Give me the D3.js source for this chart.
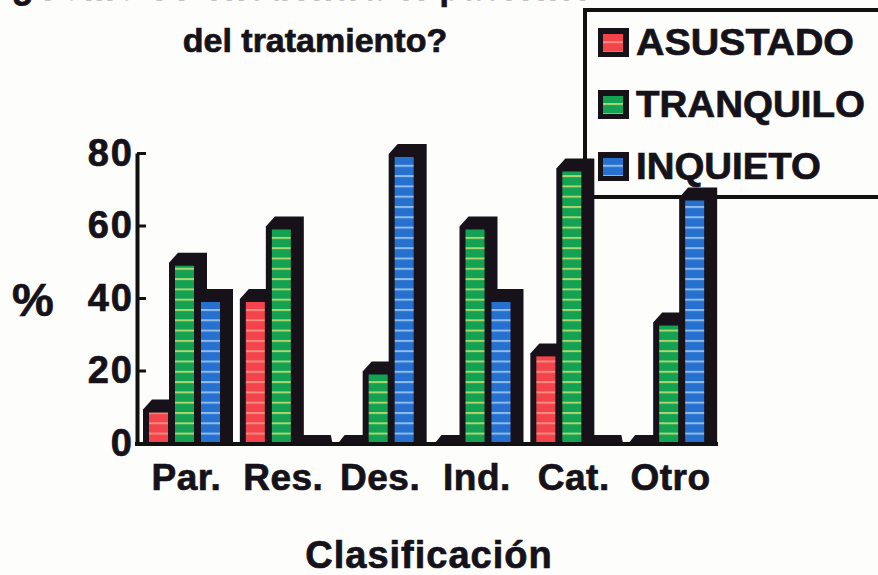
<!DOCTYPE html>
<html><head><meta charset="utf-8">
<script src="https://cdn.jsdelivr.net/npm/d3@7"></script>
<style>html,body{margin:0;padding:0;background:#fdfdfb}svg{display:block}text{font-family:"Liberation Sans",Arial,sans-serif;font-weight:bold;fill:#15121a;stroke:#15121a;stroke-width:.7px}</style>
</head><body><svg id="c" width="878" height="575"></svg>
<script>
const categories=["Par.","Res.","Des.","Ind.","Cat.","Otro"];
const seriesNames=["ASUSTADO","TRANQUILO","INQUIETO"];
const asustado=[9.5,40,0,0,25,0];
const tranquilo=[50,60,20,60,76,33.5];
const inquieto=[40,0,80,40,0,68];
const yTicks=[0,20,40,60,80];
const colors=["#f2444a","#13a152","#2670d0"];
const stripes=["#f98a80","#a9d670","#8fbdea"];
const values=[asustado,tranquilo,inquieto];

const svg=d3.select("#c");
const defs=svg.append("defs");
colors.forEach((c,i)=>{
  const p=defs.append("pattern").attr("id","p"+i).attr("patternUnits","userSpaceOnUse").attr("width",20).attr("height",10.3);
  p.append("rect").attr("width",20).attr("height",10.3).attr("fill",c);
  p.append("rect").attr("y",0).attr("width",20).attr("height",2).attr("fill",stripes[i]);
});
const x0=d3.scaleBand().domain(categories).range([130,711]).padding(0);
const x1=d3.scaleBand().domain(d3.range(3)).range([13,91]).padding(0);
const y=d3.scaleLinear().domain([0,80]).range([443,153]);

// title (top line is cut by the page edge and hidden behind the legend, as in the reference)
svg.append("text").attr("x",12).attr("y",0).attr("font-size",34).attr("letter-spacing",2).text("¿Cómo se encuentra el paciente");
svg.append("text").attr("x",315).attr("y",52).attr("text-anchor","middle").attr("font-size",34).text("del tratamiento?");

// legend
const lg=svg.append("g");
lg.append("rect").attr("x",585).attr("y",10).attr("width",310).attr("height",187).attr("fill","#fdfdfb").attr("stroke","#111").attr("stroke-width",4);
const legendWidths=[218,229,185];
seriesNames.forEach((s,i)=>{
  const cy=43+i*62;
  lg.append("rect").attr("x",598).attr("y",cy-15).attr("width",31).attr("height",29).attr("fill","#17121a");
  lg.append("rect").attr("x",603).attr("y",cy-9).attr("width",20).attr("height",18).attr("fill",`url(#p${i})`);
  lg.append("text").attr("x",636).attr("y",cy+12).attr("font-size",37).attr("textLength",legendWidths[i]).attr("lengthAdjust","spacingAndGlyphs").text(s);
});

// bars
const dx=13,dy=9,face=19,b=6;
const plot=svg.append("g");
const row=categories.flatMap((c,ci)=>values.map((v,si)=>({c,si,v:v[ci]})));
row.forEach(d=>{
  const xl=x0(d.c)+x1(d.si), yb=y(0), yt=y(d.v);
  const g=plot.append("g");
  if(d.v===0){
    g.append("path").attr("d",d3.line()([[xl,yb+2],[xl+8,yb-8],[xl+b+face+dx+1,yb-8],[xl+b+face+dx+3,yb+2]])+"Z").attr("fill","#17121a");
    return;
  }
  g.append("path").attr("d",d3.line()([[xl,yb+2],[xl,yt+1],[xl+9,yt-dy],[xl+b+face+dx,yt-dy],[xl+b+face+dx,yb+2]])+"Z").attr("fill","#17121a");
  g.append("rect").attr("x",xl+b).attr("y",yt+4).attr("width",face).attr("height",Math.max(0,yb-yt-5)).attr("fill",`url(#p${d.si})`);
});

// axes
const ax=svg.append("g").attr("transform","translate(137,0)").call(d3.axisLeft(y).tickValues(yTicks).tickSizeInner(-9).tickSizeOuter(0).tickPadding(3).tickFormat(d3.format("d")));
ax.select(".domain").attr("stroke","#111").attr("stroke-width",4);
ax.selectAll(".tick line").attr("stroke","#111").attr("stroke-width",3);
ax.selectAll(".tick text").attr("font-size",38).attr("letter-spacing",2).attr("fill","#15121a").style("font-family",'"Liberation Sans",Arial,sans-serif');
svg.append("line").attr("x1",135).attr("x2",718).attr("y1",y(0)+1).attr("y2",y(0)+1).attr("stroke","#111").attr("stroke-width",4);
categories.forEach(c=>{
  svg.append("text").attr("x",x0(c)+x0.bandwidth()/2+8).attr("y",490).attr("text-anchor","middle").attr("font-size",37).attr("letter-spacing",.5).text(c);
});
svg.append("text").attr("x",33).attr("y",316).attr("text-anchor","middle").attr("font-size",47).text("%");
svg.append("text").attr("x",429).attr("y",568).attr("text-anchor","middle").attr("font-size",38).attr("letter-spacing",1).text("Clasificación");
</script></body></html>
